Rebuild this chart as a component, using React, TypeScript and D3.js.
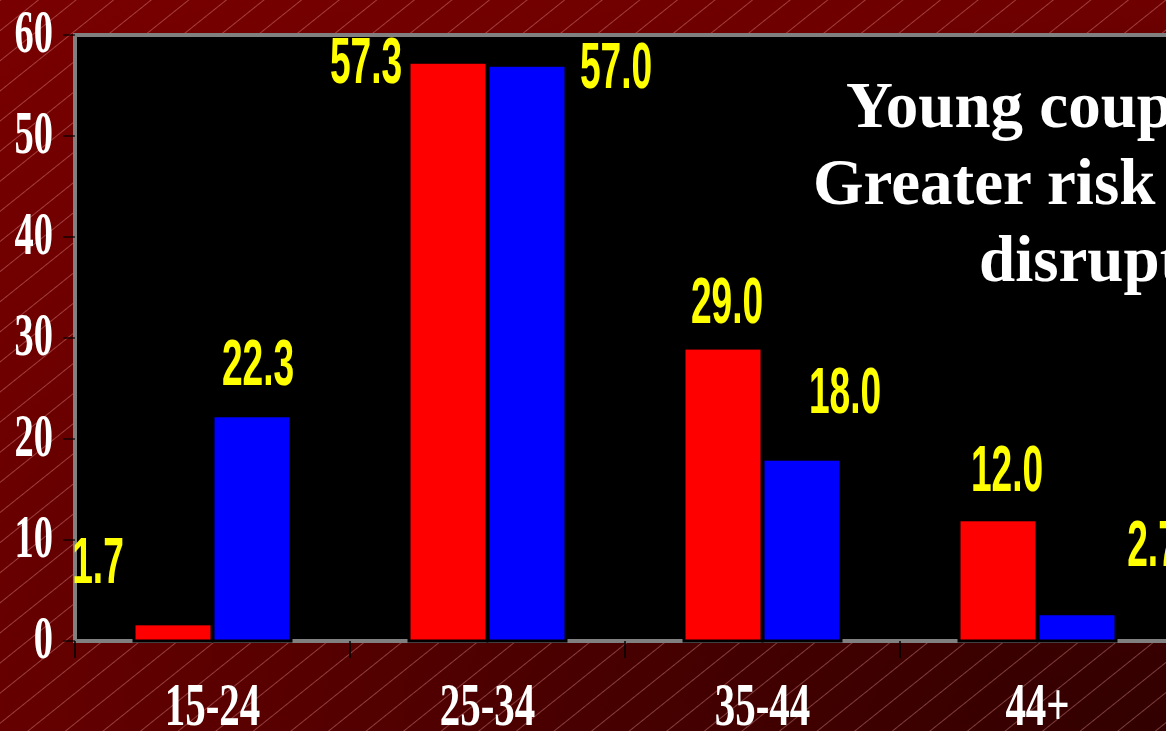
import React from 'react';
import * as d3 from 'd3';

// chart values
const categories = ['15-24', '25-34', '35-44', '44+'];
const redValues = [1.7, 57.3, 29.0, 12.0];
const blueValues = [22.3, 57.0, 18.0, 2.7];
const yTicks = [0, 10, 20, 30, 40, 50, 60];
const titleLines = ['Young couples:', 'Greater risk of', 'disruption'];

// hand placed value labels (offset from bar centre / bar top), like the slide
const labelShift = {
  red: [[-75, -41], [-82, 21], [4, -25], [9, -29]],
  blue: [[6, -31], [89, 23], [43, -46], [76, -48]],
};

const W = 1166;
const H = 731;

const App = () => {
  const x0 = d3.scaleBand().domain(categories).range([75, 1175]).padding(0);
  const x1 = d3
    .scaleBand()
    .domain(['red', 'blue'])
    .range([0, x0.bandwidth()])
    .paddingInner(0.0127)
    .paddingOuter(0.747);
  const y = d3.scaleLinear().domain([0, 60]).range([641, 35]);

  const series = [
    { key: 'red', color: '#ff0000', values: redValues },
    { key: 'blue', color: '#0000ff', values: blueValues },
  ];

  const serif = '"Liberation Serif", "Times New Roman", serif';
  const sans = '"Liberation Sans", Arial, sans-serif';

  return (
    <svg width={W} height={H} style={{ position: 'absolute', left: 0, top: 0, display: 'block' }}>
      <defs>
        <radialGradient
          id="bg"
          gradientUnits="userSpaceOnUse"
          cx={W}
          cy={H}
          r={1800}
          gradientTransform={`translate(${W},${H}) scale(1,0.56) translate(${-W},${-H})`}
        >
          <stop offset="0" stopColor="#320000" />
          <stop offset="0.32" stopColor="#480000" />
          <stop offset="0.65" stopColor="#660000" />
          <stop offset="0.72" stopColor="#6e0000" />
          <stop offset="1" stopColor="#7a0000" />
        </radialGradient>
        <pattern id="hatch" patternUnits="userSpaceOnUse" width={200} height={23.5} patternTransform="rotate(-38.7)">
          <line x1={0} x2={200} y1={0.5} y2={0.5} stroke="#ffb0b0" strokeOpacity={0.35} strokeWidth={1} />
        </pattern>
      </defs>

      <rect x={0} y={0} width={W} height={H} fill="url(#bg)" />
      <rect x={0} y={0} width={W} height={H} fill="url(#hatch)" />

      {/* plot area */}
      <rect x={75} y={35} width={1100} height={y(0) - 35} fill="#000" stroke="#808080" strokeWidth={4} />

      {/* y axis */}
      {yTicks.map((t) => (
        <g key={t}>
          <line x1={63} x2={75} y1={y(t)} y2={y(t)} stroke="#000" strokeWidth={1.2} />
          <text
            transform={`translate(53,${y(t) + 17}) scale(0.62,1)`}
            textAnchor="end"
            fill="#fff"
            fontFamily={serif}
            fontWeight="bold"
            fontSize={62}
          >
            {t}
          </text>
        </g>
      ))}

      {/* x axis ticks and labels */}
      {categories.map((c) => (
        <line key={c} x1={x0(c)} x2={x0(c)} y1={y(0)} y2={658} stroke="#000" strokeWidth={1.5} />
      ))}
      {categories.map((c) => (
        <text
          key={c}
          transform={`translate(${x0(c) + x0.bandwidth() / 2},725) scale(0.66,1)`}
          textAnchor="middle"
          fill="#fff"
          fontFamily={serif}
          fontWeight="bold"
          fontSize={62}
        >
          {c}
        </text>
      ))}

      {/* bars */}
      {series.map((s) =>
        s.values.map((v, i) => (
          <rect
            key={s.key + i}
            x={x0(categories[i]) + x1(s.key)}
            y={y(v)}
            width={x1.bandwidth()}
            height={y(0) - y(v)}
            fill={s.color}
            stroke="#000"
            strokeWidth={3}
          />
        ))
      )}

      {/* value labels */}
      {series.map((s) =>
        s.values.map((v, i) => {
          const [dx, dy] = labelShift[s.key][i];
          const cx = x0(categories[i]) + x1(s.key) + x1.bandwidth() / 2 + dx;
          return (
            <text
              key={'l' + s.key + i}
              transform={`translate(${cx},${y(v) + dy}) scale(0.58,1)`}
              textAnchor="middle"
              fill="#ffff00"
              fontFamily={sans}
              fontWeight="bold"
              fontSize={64}
            >
              {v.toFixed(1)}
            </text>
          );
        })
      )}

      {/* title */}
      {titleLines.map((line, i) => (
        <text
          key={line}
          x={[846, 813, 979][i]}
          y={127 + i * 77}
          fill="#fff"
          fontFamily={serif}
          fontWeight="bold"
          fontSize={65}
        >
          {line}
        </text>
      ))}
    </svg>
  );
};

export default App;
